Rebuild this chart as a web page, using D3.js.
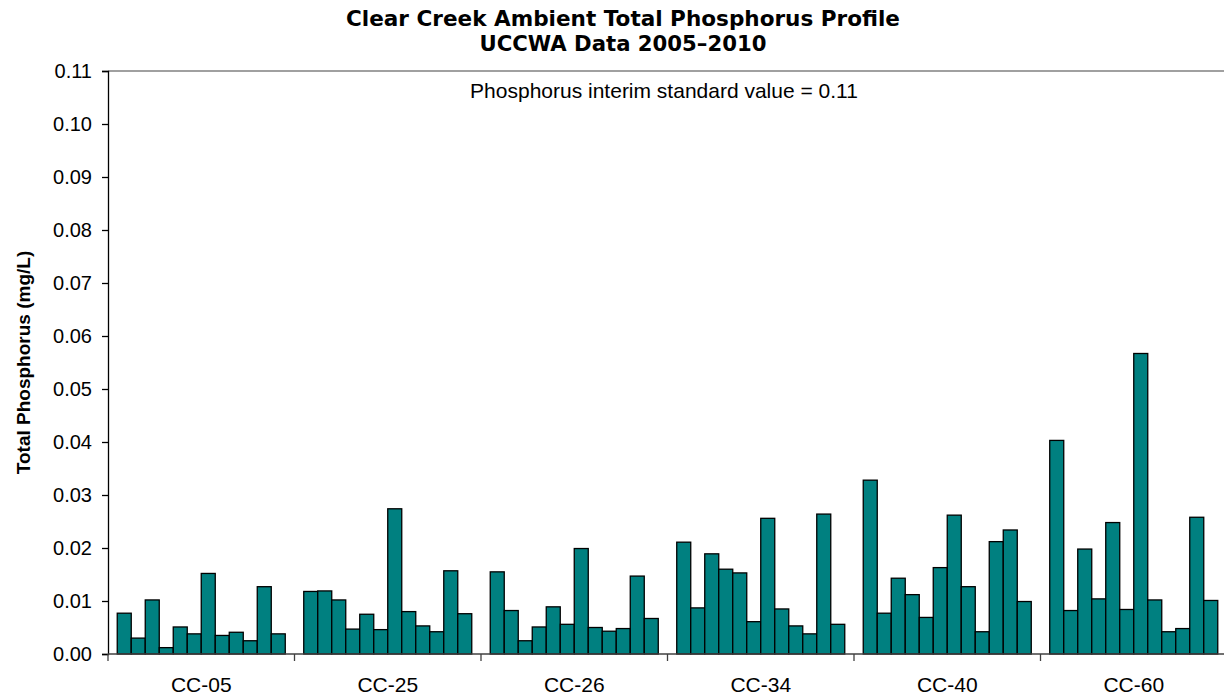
<!DOCTYPE html>
<html>
<head>
<meta charset="utf-8">
<script src="https://cdn.jsdelivr.net/npm/d3@7"></script>
<style>
  body { margin: 0; background: #fff; }
  svg { display: block; }
</style>
</head>
<body>
<svg id="chart" width="1224" height="698"></svg>
<script>
const sites = ["CC-05", "CC-25", "CC-26", "CC-34", "CC-40", "CC-60"];

const cc05 = [0.0077, 0.0030, 0.0102, 0.0012, 0.0051, 0.0038, 0.0152, 0.0035, 0.0041, 0.0025, 0.0127, 0.0038];
const cc25 = [0.0118, 0.0119, 0.0102, 0.0047, 0.0075, 0.0046, 0.0274, 0.0080, 0.0053, 0.0042, 0.0157, 0.0076];
const cc26 = [0.0155, 0.0082, 0.0025, 0.0051, 0.0089, 0.0056, 0.0199, 0.0050, 0.0043, 0.0048, 0.0147, 0.0067];
const cc34 = [0.0211, 0.0087, 0.0189, 0.0160, 0.0153, 0.0061, 0.0256, 0.0085, 0.0053, 0.0038, 0.0264, 0.0056];
const cc40 = [0.0328, 0.0077, 0.0143, 0.0112, 0.0069, 0.0163, 0.0262, 0.0127, 0.0042, 0.0212, 0.0234, 0.0099];
const cc60 = [0.0403, 0.0082, 0.0198, 0.0104, 0.0248, 0.0084, 0.0567, 0.0102, 0.0042, 0.0048, 0.0258, 0.0101];

const yTicks = [0, 0.01, 0.02, 0.03, 0.04, 0.05, 0.06, 0.07, 0.08, 0.09, 0.10, 0.11];
const standardValue = 0.11;

const seriesBySite = [cc05, cc25, cc26, cc34, cc40, cc60];
const data = sites.map((site, i) => ({ site, values: seriesBySite[i] }));

const svg = d3.select("#chart");
const plotLeft = 108, plotRight = 1227, plotTop = 71, plotBottom = 654;
const arial = "Arial, 'Liberation Sans', sans-serif";

const x = d3.scaleBand().domain(sites).range([plotLeft, plotRight]);
const xInner = d3.scaleBand()
  .domain(d3.range(12))
  .range([0, x.bandwidth()])
  .paddingInner(0)
  .paddingOuter(0.66);
const y = d3.scaleLinear().domain([0, 0.11]).range([plotBottom, plotTop]);

// titles
svg.append("text")
  .attr("x", 623).attr("y", 26)
  .attr("text-anchor", "middle")
  .attr("font-family", "'DejaVu Sans', sans-serif")
  .attr("font-weight", "bold")
  .attr("font-size", 22)
  .attr("textLength", 554).attr("lengthAdjust", "spacingAndGlyphs")
  .text("Clear Creek Ambient Total Phosphorus Profile");
svg.append("text")
  .attr("x", 623).attr("y", 51)
  .attr("text-anchor", "middle")
  .attr("font-family", "'DejaVu Sans', sans-serif")
  .attr("font-weight", "bold")
  .attr("font-size", 22)
  .attr("textLength", 287).attr("lengthAdjust", "spacingAndGlyphs")
  .text("UCCWA Data 2005–2010");

// standard line at top
svg.append("line")
  .attr("x1", plotLeft).attr("x2", plotRight)
  .attr("y1", y(standardValue)).attr("y2", y(standardValue))
  .attr("stroke", "#808080").attr("stroke-width", 1.5);

svg.append("text")
  .attr("x", 664).attr("y", 98)
  .attr("text-anchor", "middle")
  .attr("font-family", arial)
  .attr("font-size", 21)
  .text("Phosphorus interim standard value = " + standardValue);

// bars
const groups = svg.append("g").selectAll("g")
  .data(data)
  .join("g")
  .attr("transform", d => `translate(${x(d.site)},0)`);

groups.selectAll("rect")
  .data(d => d.values)
  .join("rect")
  .attr("x", (d, i) => xInner(i))
  .attr("y", d => y(d))
  .attr("width", xInner.bandwidth())
  .attr("height", d => y(0) - y(d))
  .attr("fill", "#008080")
  .attr("stroke", "#000")
  .attr("stroke-width", 1.3);

// y axis
const yAxis = svg.append("g")
  .attr("transform", `translate(${plotLeft},0)`)
  .call(d3.axisLeft(y).tickValues(yTicks).tickFormat(d3.format(".2f")).tickSizeOuter(0).tickSize(6).tickPadding(10));
yAxis.selectAll("text")
  .attr("font-family", arial)
  .attr("font-size", 20)
  .attr("fill", "#000");
yAxis.selectAll(".tick line").attr("stroke", "#000").attr("stroke-width", 1.3);
yAxis.select(".domain").attr("stroke", "#000").attr("stroke-width", 1.3);

// x axis
const xAxis = svg.append("g")
  .attr("transform", `translate(0,${plotBottom})`);
xAxis.append("line")
  .attr("x1", plotLeft).attr("x2", plotRight)
  .attr("stroke", "#404040").attr("stroke-width", 1.3);
xAxis.selectAll(".sep")
  .data(sites)
  .join("line")
  .attr("class", "sep")
  .attr("x1", d => x(d)).attr("x2", d => x(d))
  .attr("y1", 0).attr("y2", 7)
  .attr("stroke", "#404040").attr("stroke-width", 1.3);
xAxis.selectAll(".lbl")
  .data(sites)
  .join("text")
  .attr("class", "lbl")
  .attr("x", d => x(d) + x.bandwidth() / 2)
  .attr("y", 38)
  .attr("text-anchor", "middle")
  .attr("font-family", arial)
  .attr("font-size", 21)
  .text(d => d);

// y label
svg.append("text")
  .attr("transform", `translate(30,${(plotTop + plotBottom) / 2}) rotate(-90)`)
  .attr("text-anchor", "middle")
  .attr("font-family", arial)
  .attr("font-weight", "bold")
  .attr("font-size", 19)
  .text("Total Phosphorus (mg/L)");
</script>
</body>
</html>
